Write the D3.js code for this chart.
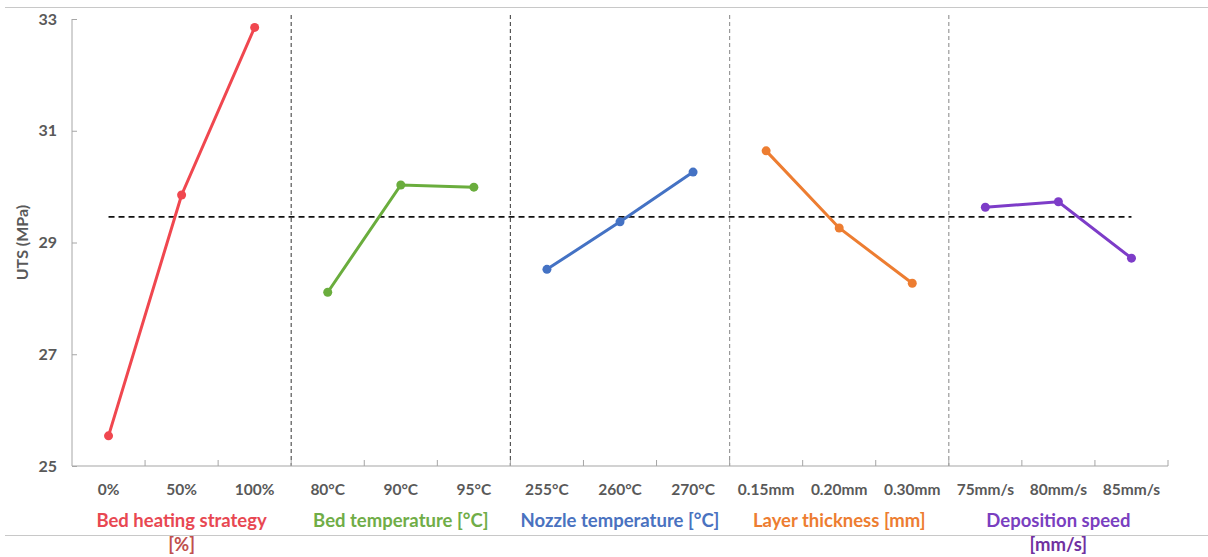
<!DOCTYPE html>
<html><head><meta charset="utf-8">
<script src="https://cdn.jsdelivr.net/npm/d3@7"></script>
<style>body{margin:0;background:#fff;} svg{display:block;font-family:Lato,"Open Sans",sans-serif;}</style>
</head><body><svg id="c" width="1208" height="557"></svg>
<script>
const groups = ["Bed heating strategy", "Bed temperature [°C]", "Nozzle temperature [°C]", "Layer thickness [mm]", "Deposition speed"];
const groupLine2 = ["[%]", "", "", "", "[mm/s]"];
const levels = [
  ["0%", "50%", "100%"],
  ["80°C", "90°C", "95°C"],
  ["255°C", "260°C", "270°C"],
  ["0.15mm", "0.20mm", "0.30mm"],
  ["75mm/s", "80mm/s", "85mm/s"]
];
const values = [
  [25.54, 29.85, 32.85],
  [28.11, 30.03, 29.99],
  [28.52, 29.37, 30.26],
  [30.64, 29.26, 28.27],
  [29.63, 29.73, 28.72]
];
const meanValue = 29.46;
const yTicks = [25, 27, 29, 31, 33];
const colors = ["#f0474f", "#6aad3d", "#4472c4", "#ed7d31", "#7d3cc8"];
const titleColors = ["#e84852", "#70ad47", "#4a72c0", "#ed7d31", "#7a3fc0"];
const line2Colors = ["#c0504d", "", "", "", "#7030a0"];

const svg = d3.select("#c");
const L = 72, R = 1168, T = 19, B = 466;
const cats = levels.flat();
const x = d3.scaleBand().domain(cats).range([L, R]).padding(0);
const y = d3.scaleLinear().domain([25, 33]).range([B, T]);

svg.append("line").attr("x1", 5).attr("x2", 1208).attr("y1", 7.5).attr("y2", 7.5).attr("stroke", "#c8c8c8");
svg.append("line").attr("x1", 5).attr("x2", 1208).attr("y1", 535.5).attr("y2", 535.5).attr("stroke", "#c8c8c8");

const sepColors = ["#555", "#555", "#999", "#999"];
for (let i = 1; i < groups.length; i++) {
  const sx = x(levels[i][0]);
  svg.append("line").attr("x1", sx).attr("x2", sx).attr("y1", T - 4).attr("y2", B)
    .attr("stroke", sepColors[i - 1]).attr("stroke-width", 1.2).attr("stroke-dasharray", "4,3");
}

const yAxis = d3.axisLeft(y).tickValues(yTicks).tickSize(-5).tickPadding(15).tickFormat(d3.format("d"));
const ga = svg.append("g").attr("transform", `translate(${L},0)`).call(yAxis);
ga.select(".domain").attr("stroke", "#a6a6a6").attr("d", `M0,${T}V${B}`);
ga.selectAll(".tick line").attr("stroke", "#a6a6a6");
ga.selectAll("text").attr("fill", "#595959").attr("font-size", 16).attr("font-weight", "bold").attr("font-family", "Lato");

const xa = svg.append("g").attr("transform", `translate(0,${B})`);
xa.append("line").attr("x1", L).attr("x2", R).attr("y1", 0).attr("y2", 0).attr("stroke", "#a6a6a6").attr("stroke-width", 1.2);
const bounds = cats.map(c => x(c) + x.bandwidth());
xa.selectAll(".xt").data(bounds).join("line").attr("x1", d => d).attr("x2", d => d).attr("y1", 0).attr("y2", -6).attr("stroke", "#a6a6a6");
xa.selectAll(".xl").data(cats).join("text")
  .attr("x", d => x(d) + x.bandwidth() / 2).attr("y", 29)
  .attr("text-anchor", "middle").attr("fill", "#595959").attr("font-size", 15.5).attr("font-weight", "bold").text(d => d);

groups.forEach((g, i) => {
  const cx = x(levels[i][1]) + x.bandwidth() / 2;
  svg.append("text").attr("x", cx).attr("y", 527).attr("text-anchor", "middle")
    .attr("fill", titleColors[i]).attr("font-size", 18.5).attr("font-weight", "bold").text(g);
  if (groupLine2[i]) {
    svg.append("text").attr("x", cx).attr("y", 551).attr("text-anchor", "middle")
      .attr("fill", line2Colors[i]).attr("font-size", 18.5).attr("font-weight", "bold").text(groupLine2[i]);
  }
});

svg.append("text").attr("transform", `translate(28,${(T + B) / 2}) rotate(-90)`).attr("text-anchor", "middle")
  .attr("fill", "#595959").attr("font-size", 16).attr("font-weight", "bold").text("UTS (MPa)");

svg.append("line").attr("x1", x(cats[0]) + x.bandwidth() / 2).attr("x2", x(cats[cats.length - 1]) + x.bandwidth() / 2)
  .attr("y1", y(meanValue)).attr("y2", y(meanValue)).attr("stroke", "#111").attr("stroke-width", 1.8).attr("stroke-dasharray", "6,4");

const line = d3.line().x(d => x(d[0]) + x.bandwidth() / 2).y(d => y(d[1]));
values.forEach((vals, i) => {
  const pts = vals.map((v, j) => [levels[i][j], v]);
  svg.append("path").attr("d", line(pts)).attr("fill", "none").attr("stroke", colors[i]).attr("stroke-width", 3);
  svg.selectAll(".p" + i).data(pts).join("circle").attr("cx", d => x(d[0]) + x.bandwidth() / 2).attr("cy", d => y(d[1]))
    .attr("r", 4.5).attr("fill", colors[i]);
});
</script></body></html>
